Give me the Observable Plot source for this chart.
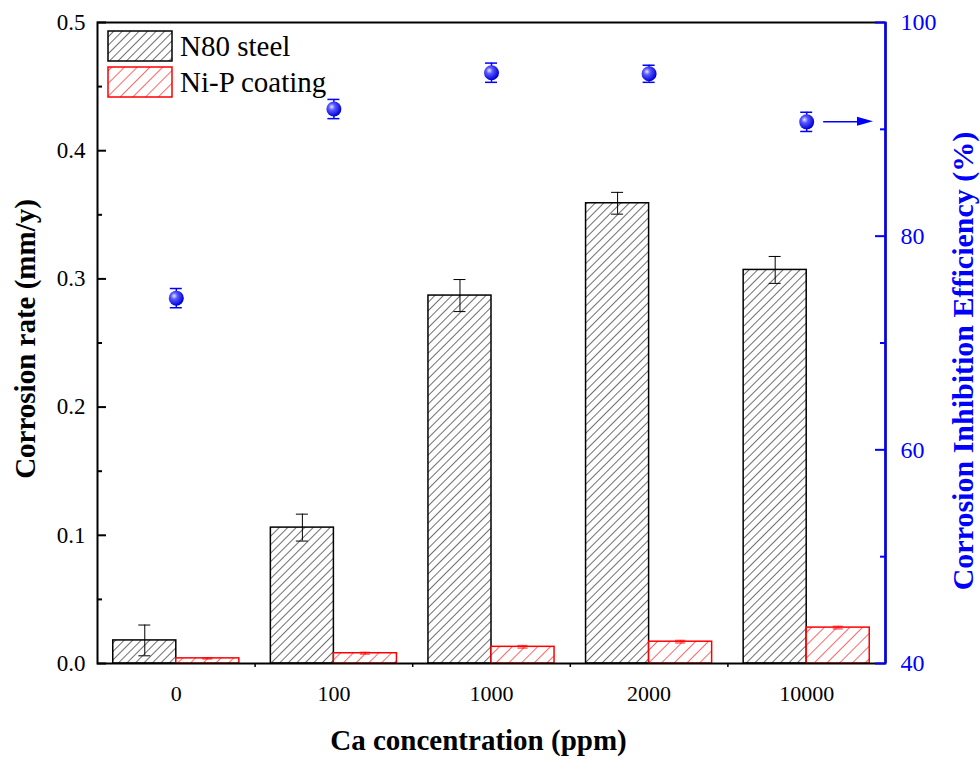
<!DOCTYPE html>
<html><head><meta charset="utf-8">
<script src="https://cdn.jsdelivr.net/npm/d3@7"></script>
<script src="https://cdn.jsdelivr.net/npm/@observablehq/plot@0.6"></script>
<style>
body{margin:0;background:#fff;}
#chart{position:relative;width:980px;height:760px;}
</style>
</head><body><div id="chart"></div>
<script>
// ---- data ----
const categories = ["0", "100", "1000", "2000", "10000"];
const n80Rate = [0.018, 0.106, 0.287, 0.359, 0.307];
const n80Err = [0.012, 0.0105, 0.0125, 0.0085, 0.0105];
const nipRate = [0.004, 0.008, 0.013, 0.017, 0.028];
const nipErr = [0.0005, 0.0007, 0.001, 0.001, 0.001];
const efficiency = [74.2, 91.9, 95.3, 95.2, 90.7];
const effErr = [0.9, 0.9, 0.9, 0.8, 0.9];
const rateTicks = [0, 0.1, 0.2, 0.3, 0.4, 0.5];
const rateMinor = [0.05, 0.15, 0.25, 0.35, 0.45];
const effTicks = [40, 60, 80, 100];
const effMinor = [50, 70, 90];
const seriesNames = ["N80 steel", "Ni-P coating"];

// ---- scales mapping ----
const rateDomain = [0, 0.5];
const effDomain = [40, 100];
const effToY = e => (e - effDomain[0]) / (effDomain[1] - effDomain[0]) * (rateDomain[1] - rateDomain[0]) + rateDomain[0];
const yToEff = y => (y - rateDomain[0]) / (rateDomain[1] - rateDomain[0]) * (effDomain[1] - effDomain[0]) + effDomain[0];
const xDomain = [-0.5, categories.length - 0.5];
const barW = 0.4;
const FONT = "Liberation Serif, Times New Roman, serif";

const idx = categories.map((c, i) => i);
const n80 = idx.map(i => ({x1: i - barW, x2: i, xc: i - barW / 2, v: n80Rate[i], e: n80Err[i]}));
const nip = idx.map(i => ({x1: i, x2: i + barW, xc: i + barW / 2, v: nipRate[i], e: nipErr[i]}));
const eff = idx.map(i => ({x: i, v: effToY(efficiency[i]), lo: effToY(efficiency[i] - effErr[i]), hi: effToY(efficiency[i] + effErr[i])}));

const plot = Plot.plot({
  width: 980, height: 760,
  marginLeft: 97, marginRight: 95, marginTop: 22, marginBottom: 97,
  style: {fontFamily: FONT, fontSize: "24px", background: "white", overflow: "visible"},
  x: {type: "linear", domain: xDomain},
  y: {domain: rateDomain},
  marks: [
    Plot.rectY(n80, {x1: "x1", x2: "x2", y: "v", fill: "url(#hatchBlack)", stroke: "black", strokeWidth: 1.5}),
    Plot.rectY(nip, {x1: "x1", x2: "x2", y: "v", fill: "url(#hatchRed)", stroke: "red", strokeWidth: 1.5}),
    // error bars N80
    Plot.ruleX(n80, {x: "xc", y1: d => d.v - d.e, y2: d => d.v + d.e, stroke: "black", strokeWidth: 1}),
    Plot.ruleY(n80, {y: d => d.v - d.e, x1: "xc", x2: "xc", insetLeft: -6, insetRight: -6, stroke: "black", strokeWidth: 1}),
    Plot.ruleY(n80, {y: d => d.v + d.e, x1: "xc", x2: "xc", insetLeft: -6, insetRight: -6, stroke: "black", strokeWidth: 1}),
    // error bars Ni-P
    Plot.ruleX(nip, {x: "xc", y1: d => d.v - d.e, y2: d => d.v + d.e, stroke: "red", strokeOpacity: 0.6, strokeWidth: 1}),
    Plot.ruleY(nip, {y: d => d.v - d.e, x1: "xc", x2: "xc", insetLeft: -5, insetRight: -5, stroke: "red", strokeOpacity: 0.6, strokeWidth: 1.5}),
    Plot.ruleY(nip, {y: d => d.v + d.e, x1: "xc", x2: "xc", insetLeft: -5, insetRight: -5, stroke: "red", strokeOpacity: 0.6, strokeWidth: 1.5}),
    // frame
    Plot.frame({stroke: "black", strokeWidth: 2}),
    Plot.ruleX([xDomain[1]], {stroke: "blue", strokeWidth: 2.5}),
    // left ticks (inward)
    Plot.ruleY(rateTicks, {y: d => d, x1: xDomain[0], x2: xDomain[0], insetRight: -9, stroke: "black", strokeWidth: 2}),
    Plot.ruleY(rateMinor, {y: d => d, x1: xDomain[0], x2: xDomain[0], insetRight: -5, stroke: "black", strokeWidth: 2}),
    // right ticks (inward)
    Plot.ruleY(effTicks.map(effToY), {y: d => d, x1: xDomain[1], x2: xDomain[1], insetLeft: -10, stroke: "blue", strokeWidth: 2}),
    Plot.ruleY(effMinor.map(effToY), {y: d => d, x1: xDomain[1], x2: xDomain[1], insetLeft: -5, stroke: "blue", strokeWidth: 2}),
    // x boundary ticks
    Plot.ruleX(idx.slice(1).map(i => i - 0.5), {x: d => d, y1: rateDomain[0], y2: rateDomain[0], insetBottom: -4, stroke: "black", strokeWidth: 1.5}),
    // axes labels
    Plot.axisY(rateTicks, {anchor: "left", tickSize: 0, tickPadding: 12, tickFormat: d3.format(".1f"), label: null, fontSize: 23, fontFamily: FONT}),
    Plot.axisY(effTicks.map(effToY), {anchor: "right", tickSize: 0, tickPadding: 15, tickFormat: d => Math.round(yToEff(d)), label: null, fill: "blue", fontSize: 24, fontFamily: FONT}),
    Plot.axisX(idx, {tickSize: 0, tickPadding: 22, tickFormat: i => categories[i], label: null, fontSize: 22, fontFamily: FONT}),
    // efficiency error bars and points
    Plot.ruleX(eff, {x: "x", y1: "lo", y2: "hi", stroke: "blue", strokeWidth: 1.5}),
    Plot.ruleY(eff, {y: "lo", x1: "x", x2: "x", insetLeft: -6, insetRight: -6, stroke: "blue", strokeWidth: 1.5}),
    Plot.ruleY(eff, {y: "hi", x1: "x", x2: "x", insetLeft: -6, insetRight: -6, stroke: "blue", strokeWidth: 1.5}),
    Plot.dot(eff, {x: "x", y: "v", r: 7.5, fill: "url(#ball)", stroke: "none"}),
    // arrow toward right axis
    Plot.arrow([eff[eff.length - 1]], {x1: "x", x2: () => xDomain[1], y1: "v", y2: "v", insetStart: 17, insetEnd: 26, stroke: "blue", strokeWidth: 1.5, headLength: 0}),
    // titles
    Plot.text(["Corrosion rate (mm/y)"], {frameAnchor: "left", textAnchor: "middle", dx: -72, dy: -4, rotate: -90, fontWeight: "bold", fontSize: 29, fill: "black", fontFamily: FONT}),
    Plot.text(["Corrosion Inhibition Efficiency (%)"], {frameAnchor: "right", textAnchor: "middle", dx: 78, dy: 18, rotate: -90, fontWeight: "bold", fontSize: 30, fill: "blue", fontFamily: FONT}),
    Plot.text(["Ca concentration (ppm)"], {frameAnchor: "bottom", textAnchor: "middle", dx: -13, dy: 86, fontWeight: "bold", fontSize: 29, fill: "black", fontFamily: FONT})
  ]
});

const svg = d3.select(plot);
svg.style("font-family", FONT);
svg.selectAll("text").style("font-family", FONT);
const defs = svg.insert("defs", ":first-child");
const hb = defs.append("pattern").attr("id", "hatchBlack").attr("patternUnits", "userSpaceOnUse")
  .attr("width", 6).attr("height", 6).attr("patternTransform", "rotate(45)");
hb.append("rect").attr("width", 6).attr("height", 6).attr("fill", "white");
hb.append("line").attr("x1", 0).attr("y1", 0).attr("x2", 0).attr("y2", 6).attr("stroke", "#222").attr("stroke-width", 1.3);
const hr = defs.append("pattern").attr("id", "hatchRed").attr("patternUnits", "userSpaceOnUse")
  .attr("width", 9).attr("height", 9).attr("patternTransform", "rotate(45)");
hr.append("rect").attr("width", 9).attr("height", 9).attr("fill", "white");
hr.append("line").attr("x1", 0).attr("y1", 0).attr("x2", 0).attr("y2", 9).attr("stroke", "red").attr("stroke-width", 1.2);
const g = defs.append("radialGradient").attr("id", "ball").attr("cx", "38%").attr("cy", "38%").attr("r", "62%").attr("fx", "35%").attr("fy", "35%");
g.append("stop").attr("offset", "0%").attr("stop-color", "#e8e8ff");
g.append("stop").attr("offset", "35%").attr("stop-color", "#5a5aff");
g.append("stop").attr("offset", "100%").attr("stop-color", "#0000d8");

// arrow head (filled triangle), positioned via the plot's scales
const sx = plot.scale("x"), sy = plot.scale("y");
const tipX = sx.apply(xDomain[1]) - 12;
const ay = sy.apply(eff[eff.length - 1].v);
svg.append("polygon").attr("points", `${tipX},${ay} ${tipX - 16},${ay - 4.5} ${tipX - 16},${ay + 4.5}`).attr("fill", "blue");

// legend
const leg = svg.append("g").style("font-family", FONT).attr("font-size", 29).attr("text-anchor", "start");
const legFill = ["url(#hatchBlack)", "url(#hatchRed)"];
const legStroke = ["black", "red"];
seriesNames.forEach((name, k) => {
  const y0 = 31 + k * 36;
  leg.append("rect").attr("x", 108).attr("y", y0).attr("width", 64).attr("height", 30)
    .attr("fill", legFill[k]).attr("stroke", legStroke[k]).attr("stroke-width", 1.5);
  leg.append("text").attr("x", 180).attr("y", y0 + 25).attr("fill", "black")
    .style("text-anchor", "start").style("font-family", FONT).text(name);
});

document.getElementById("chart").appendChild(plot);
</script>
</body></html>
